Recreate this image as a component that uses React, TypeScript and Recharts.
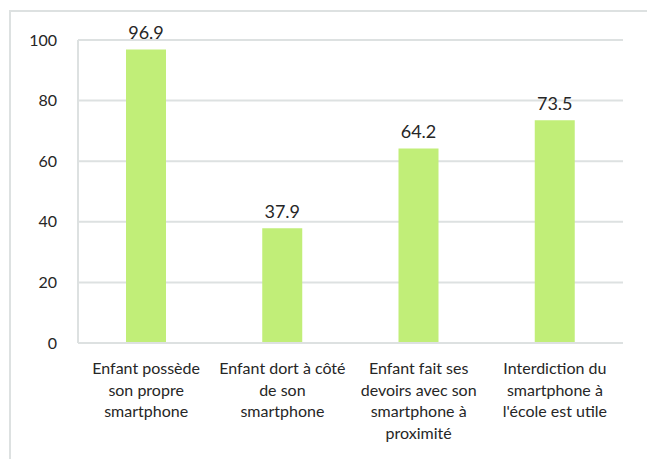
import React from 'react'
import { BarChart, Bar, XAxis, YAxis, CartesianGrid, LabelList } from 'recharts'

// libellés des catégories (retours à la ligne comme dans l'original)
const categories = [
  'Enfant possède\nson propre\nsmartphone',
  'Enfant dort à côté\nde son\nsmartphone',
  'Enfant fait ses\ndevoirs avec son\nsmartphone à\nproximité',
  "Interdiction du\nsmartphone à\nl'école est utile",
]
const values = [96.9, 37.9, 64.2, 73.5]
const yTicks = [0, 20, 40, 60, 80, 100]

const FONT = 'Lato, "Open Sans", sans-serif'
const TEXT = '#262626'
const GRID = '#dde1e1'
const BAR = '#c1ee78'

const data = categories.map((c, i) => ({ name: c, value: values[i] }))

const CategoryTick = (props: any) => {
  const { x, y, payload } = props
  const lines: string[] = String(payload.value).split('\n')
  return (
    <text x={x} y={y + 23} textAnchor="middle" fill={TEXT} fontFamily={FONT} fontSize={16}>
      {lines.map((l, i) => (
        <tspan key={i} x={x} dy={i === 0 ? 0 : 21.7}>{l}</tspan>
      ))}
    </text>
  )
}

export default function App() {
  return (
    <div style={{ position: 'absolute', left: 0, top: 0, width: 647, height: 459, overflow: 'hidden', background: '#fff' }}>
      {/* cadre du graphique */}
      <div style={{ position: 'absolute', left: 9, top: 10, width: 700, height: 500, borderTop: `2px solid ${GRID}`, borderLeft: `2px solid ${GRID}` }} />
      <div style={{ position: 'absolute', left: 0, top: 0 }}>
        <BarChart width={647} height={459} data={data} margin={{ top: 40, right: 24, left: 0, bottom: 0 }}>
          <CartesianGrid vertical={false} stroke={GRID} strokeWidth={2} />
          <XAxis
            dataKey="name"
            height={116}
            interval={0}
            tickLine={false}
            axisLine={{ stroke: GRID, strokeWidth: 2 }}
            tick={<CategoryTick />}
          />
          <YAxis
            width={78}
            domain={[0, 100]}
            ticks={yTicks}
            tickLine={false}
            tickMargin={15}
            axisLine={{ stroke: GRID, strokeWidth: 2 }}
            tick={{ fill: TEXT, fontFamily: FONT, fontSize: 16 }}
          />
          <Bar dataKey="value" fill={BAR} barSize={40} isAnimationActive={false}>
            <LabelList dataKey="value" position="top" offset={10} fill={TEXT} fontFamily={FONT} fontSize={18} />
          </Bar>
        </BarChart>
      </div>
    </div>
  )
}
